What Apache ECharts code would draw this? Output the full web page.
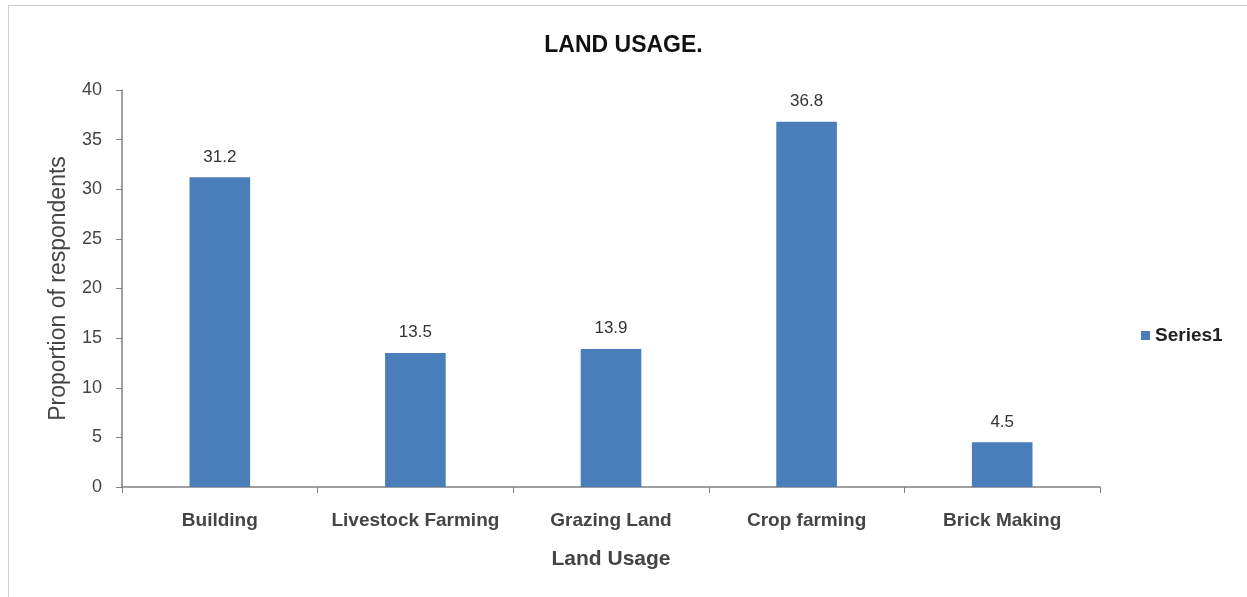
<!DOCTYPE html>
<html><head><meta charset="utf-8">
<script src="https://cdn.jsdelivr.net/npm/echarts@6/dist/echarts.min.js"></script>
<style>
html,body{margin:0;padding:0;background:#fff;}
#frame{position:absolute;left:8px;top:5px;width:1239px;height:592px;border-top:1px solid #d0d0d0;border-left:1px solid #d0d0d0;box-sizing:border-box;}
#c{position:absolute;left:0;top:0;width:1247px;height:597px;}
</style></head>
<body><div id="frame"></div><div id="c"></div>
<script>
const categories = ['Building','Livestock Farming','Grazing Land','Crop farming','Brick Making'];
const series1 = [31.2, 13.5, 13.9, 36.8, 4.5];
const yTicks = [0,5,10,15,20,25,30,35,40];
const font = '"Liberation Sans Narrow", "Liberation Sans", Arial, sans-serif';
const chart = echarts.init(document.getElementById('c'));
chart.setOption({
  backgroundColor:'transparent',
  animation:false,
  textStyle:{fontFamily:font},
  title:{text:'LAND USAGE.',left:'center',top:29,textStyle:{fontFamily:font,fontSize:23,fontWeight:'bold',color:'#111'}},
  legend:{data:['Series1'],left:1136,top:321,itemWidth:9,itemHeight:9,icon:'rect',itemGap:5,
    textStyle:{fontFamily:font,fontSize:19,fontWeight:'bold',color:'#222'}},
  grid:{left:122,right:147,top:90,bottom:110},
  xAxis:{type:'category',data:categories,name:'Land Usage',nameLocation:'middle',nameGap:62,
    nameTextStyle:{fontFamily:font,fontSize:21,fontWeight:'bold',color:'#444'},
    axisLine:{lineStyle:{color:'#808080',width:1.5}},
    axisTick:{show:true,alignWithLabel:false,length:6,lineStyle:{color:'#808080'}},
    axisLabel:{fontFamily:font,fontSize:19,fontWeight:'bold',color:'#444',margin:24,interval:0}},
  yAxis:{type:'value',min:0,max:40,interval:5,name:'Proportion of respondents',nameLocation:'middle',nameGap:52,
    nameTextStyle:{fontFamily:font,fontSize:23,color:'#444'},
    axisLine:{show:true,lineStyle:{color:'#808080',width:1.5}},
    axisTick:{show:true,inside:false,length:6,lineStyle:{color:'#808080'}},
    splitLine:{show:false},
    axisLabel:{fontFamily:font,fontSize:18,color:'#444',margin:20,
      formatter:v=>yTicks.includes(v)?String(v):''}},
  series:[{name:'Series1',type:'bar',data:series1,barWidth:'31%',
    itemStyle:{color:'#4a7ebb'},
    label:{show:true,position:'top',distance:12,fontFamily:font,fontSize:17,color:'#333'}}]
});
</script></body></html>
